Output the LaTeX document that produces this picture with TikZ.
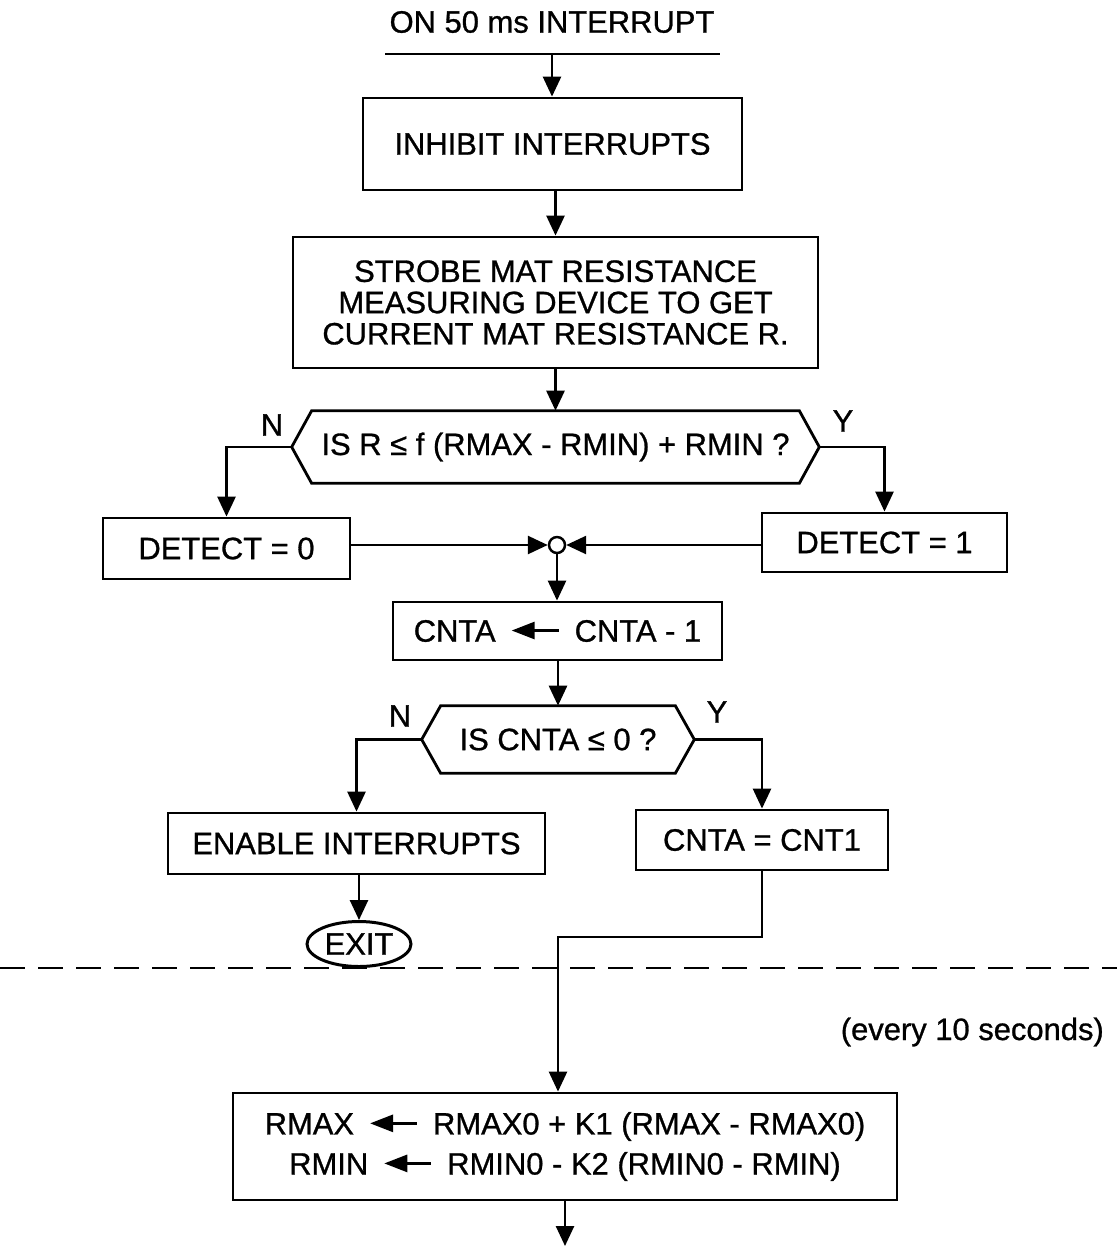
\documentclass[tikz,border=0pt]{standalone}
\usepackage{fontspec}
\setmainfont{Liberation Sans}[FakeBold=0.9]
\usetikzlibrary{arrows.meta, shapes.geometric}

% arrow used inside the assignment boxes
\newcommand{\larr}{\hspace{0.12cm}\tikz[baseline={(0,-0.36em)}]\draw[line width=1.6pt, {Triangle[length=0.46cm, width=0.34cm]}-] (0,0) -- (0.94,0);\hspace{0.12cm}}

\begin{document}
\begin{tikzpicture}[
            line width=1.5pt,
            every node/.style={font=\fontsize{17.6}{17.8}\selectfont},
            box/.style={draw, rectangle, line width=1.6pt, inner sep=0pt, align=center},
            hexa/.style={rectangle, inner sep=0pt},
            arr/.style={-{Triangle[length=0.4cm, width=0.36cm]}},
            yn/.style={inner sep=0pt}
        ]
        \useasboundingbox (0,0) rectangle (22.34,-24.94);

        % start of the routine
        \node (title) at (11.04,-0.44) {ON 50 ms INTERRUPT};
        \coordinate (tl) at (7.7,-1.08);
        \coordinate (tr) at (14.4,-1.08);
        \coordinate (top) at (11.04,-1.08);
        \draw (tl) -- (tr);

        \node[box, minimum width=7.58cm, minimum height=1.84cm] (inhibit) at (11.05,-2.88) {INHIBIT INTERRUPTS};
        \node[box, minimum width=10.5cm, minimum height=2.62cm] (strobe) at (11.11,-6.05)
            {STROBE MAT RESISTANCE\\MEASURING DEVICE TO GET\\CURRENT MAT RESISTANCE R.};

        % first decision
        \node[hexa, minimum width=10.5cm, minimum height=1.4cm] (dec1) at (11.11,-8.94) {IS R ≤ f (RMAX - RMIN) + RMIN ?};
        \draw[line width=1.6pt] (dec1.west) -- ([xshift=0.4cm]dec1.north west) -- ([xshift=-0.4cm]dec1.north east)
            -- (dec1.east) -- ([xshift=-0.4cm]dec1.south east) -- ([xshift=0.4cm]dec1.south west) -- cycle;
        \node[yn] (n1) at (5.44,-8.5) {N};
        \node[yn] (y1) at (16.86,-8.42) {Y};

        \node[box, minimum width=4.94cm, minimum height=1.22cm] (d0) at (4.53,-10.97) {DETECT = 0};
        \node[box, minimum width=4.9cm, minimum height=1.18cm] (d1) at (17.69,-10.85) {DETECT = 1};
        \node[draw, circle, line width=1.4pt, fill=white, minimum size=0.32cm, inner sep=0pt] (jn) at (11.14,-10.9) {};

        \node[box, minimum width=6.58cm, minimum height=1.16cm] (cnta) at (11.15,-12.62) {CNTA \larr{} CNTA - 1};

        % second decision
        \node[hexa, minimum width=5.4cm, minimum height=1.3cm] (dec2) at (11.16,-14.79) {IS CNTA ≤ 0 ?};
        \draw[line width=1.6pt] (dec2.west) -- ([xshift=0.38cm]dec2.north west) -- ([xshift=-0.38cm]dec2.north east)
            -- (dec2.east) -- ([xshift=-0.38cm]dec2.south east) -- ([xshift=0.38cm]dec2.south west) -- cycle;
        \node[yn] (n2) at (8.0,-14.32) {N};
        \node[yn] (y2) at (14.34,-14.24) {Y};

        \node[box, minimum width=7.54cm, minimum height=1.22cm] (enable) at (7.13,-16.87) {ENABLE INTERRUPTS};
        \node[box, minimum width=5.04cm, minimum height=1.2cm] (cnt1) at (15.24,-16.8) {CNTA = CNT1};
        \node[draw, ellipse, line width=1.7pt, minimum width=2.08cm, minimum height=0.9cm, inner sep=0pt] (exit) at (7.18,-18.88) {EXIT};

        % every 10 seconds part
        \coordinate (dl) at (0,-19.36);
        \coordinate (dr) at (22.34,-19.36);
        \draw[dash pattern=on 0.5cm off 0.26cm] (dl) -- (dr);
        \node[anchor=east] (every) at (22.22,-20.64) {(every 10 seconds)};

        \node[box, minimum width=13.28cm, minimum height=2.14cm] (upd) at (11.3,-22.93)
            {RMAX \larr{} RMAX0 + K1 (RMAX - RMAX0)\\[5pt]RMIN \larr{} RMIN0 - K2 (RMIN0 - RMIN)};
        \coordinate (bend) at (11.16,-18.74);
        \coordinate (out) at (11.3,-24.92);

        % connectors
        \draw[arr] (top) -- (inhibit.north -| top);
        \draw[arr] (inhibit.south -| strobe) -- (strobe);
        \draw[arr] (strobe) -- (dec1);
        \draw[arr] (dec1.west) -| (d0.north);
        \draw[arr] (dec1.east) -| (d1.north);
        \draw[arr] (d0.east |- jn) -- (jn);
        \draw[arr] (d1.west |- jn) -- (jn);
        \draw[arr] (jn) -- (cnta.north -| jn);
        \draw[arr] (cnta.south -| dec2) -- (dec2);
        \draw[arr] (dec2.west) -| (enable.north);
        \draw[arr] (dec2.east) -| (cnt1.north);
        \draw[arr] (exit.north |- enable.south) -- (exit.north);
        \draw[arr] (cnt1.south) |- (bend) -- (bend |- upd.north);
        \draw[arr] (upd.south) -- (out);
    \end{tikzpicture}
\end{document}
